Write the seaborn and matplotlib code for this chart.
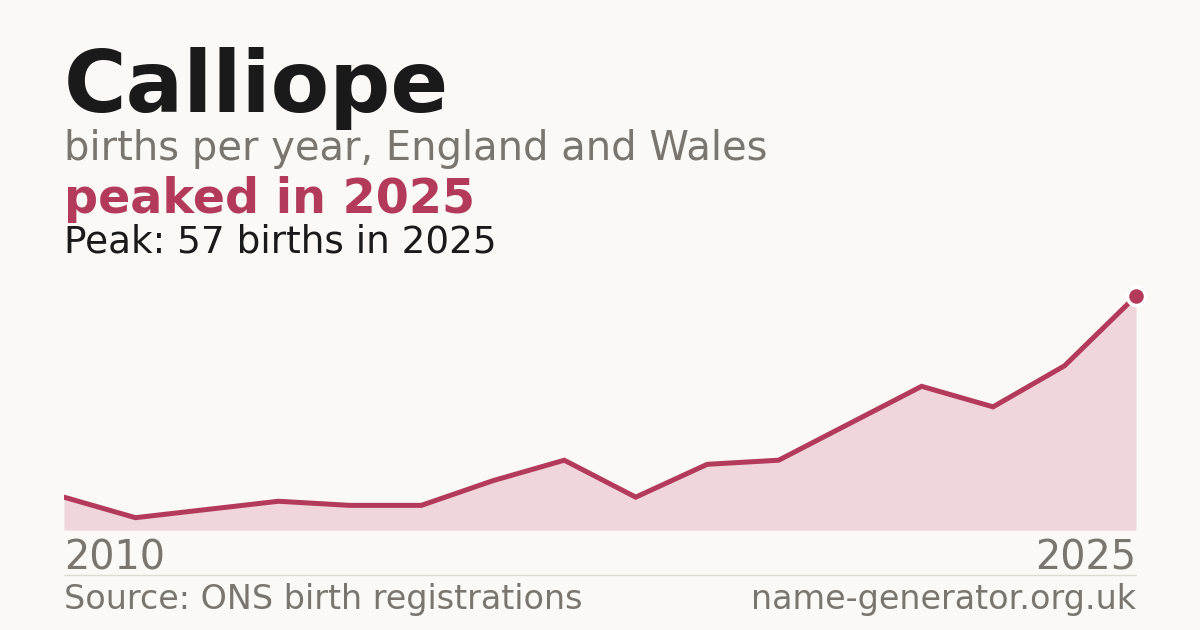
import matplotlib
matplotlib.use("Agg")
import matplotlib.pyplot as plt
import seaborn as sns
import pandas as pd

years = list(range(2010, 2026))
births = [8, 3, 5, 7, 6, 6, 12, 17, 8, 16, 17, 26, 35, 30, 40, 57]
name = "Calliope"
subtitle = "births per year, England and Wales"
headline = "peaked in 2025"
peak_note = "Peak: 57 births in 2025"
tick_labels = ["2010", "2025"]
source = "Source: ONS birth registrations"
site = "name-generator.org.uk"

BG = "#faf9f5"
DARK = "#1a1a1a"
GRAY = "#7a756f"
CRIMSON = "#b33a5a"
FILL = "#f0d5db"

sns.set_theme(style="white")
plt.rcParams["font.family"] = ["DejaVu Sans"]

W, H = 1200, 630
fig = plt.figure(figsize=(12, 6.3), dpi=100, facecolor=BG)

def fy(py):
    return 1 - py / H

def fx(px):
    return px / W

ax = fig.add_axes([fx(64), fy(530), fx(1136) - fx(64), (530 - 296) / H])
ax.set_facecolor(BG)
ax.patch.set_alpha(0)
df = pd.DataFrame({"year": years, "births": births})
ax.fill_between(df["year"], 0, df["births"], color=FILL, lw=0, zorder=1)
sns.lineplot(data=df, x="year", y="births", ax=ax, color=CRIMSON, lw=3.6,
             zorder=2, solid_joinstyle="miter")
ax.plot([df["year"].iloc[-1]], [df["births"].iloc[-1]], marker="o", ms=13,
        color=CRIMSON, mec="white", mew=2.5, clip_on=False, zorder=3)
ax.set_xlim(years[0], years[-1])
ax.set_ylim(0, max(births))
ax.axis("off")

fig.text(fx(64), fy(111.7), name, fontsize=61.5, fontweight="bold", color=DARK, va="baseline", ha="left")
fig.text(fx(64), fy(160), subtitle, fontsize=28.8, color=GRAY, va="baseline", ha="left")
fig.text(fx(64), fy(213.3), headline, fontsize=34.3, fontweight="bold", color=CRIMSON, va="baseline", ha="left")
fig.text(fx(64), fy(252.7), peak_note, fontsize=26.9, color=DARK, va="baseline", ha="left")

fig.text(fx(64), fy(570), tick_labels[0], fontsize=28.6, color=GRAY, va="baseline", ha="left")
fig.text(fx(1136), fy(570), tick_labels[1], fontsize=28.6, color=GRAY, va="baseline", ha="right")

fig.add_artist(plt.Line2D([fx(64), fx(1136)], [fy(574.5), fy(574.5)], color="#dedbd5", lw=1))

fig.text(fx(64), fy(609.5), source, fontsize=24, color=GRAY, va="baseline", ha="left")
fig.text(fx(1136), fy(609.5), site, fontsize=24, color=GRAY, va="baseline", ha="right")

fig.savefig("out.png", dpi=100, facecolor=BG)
